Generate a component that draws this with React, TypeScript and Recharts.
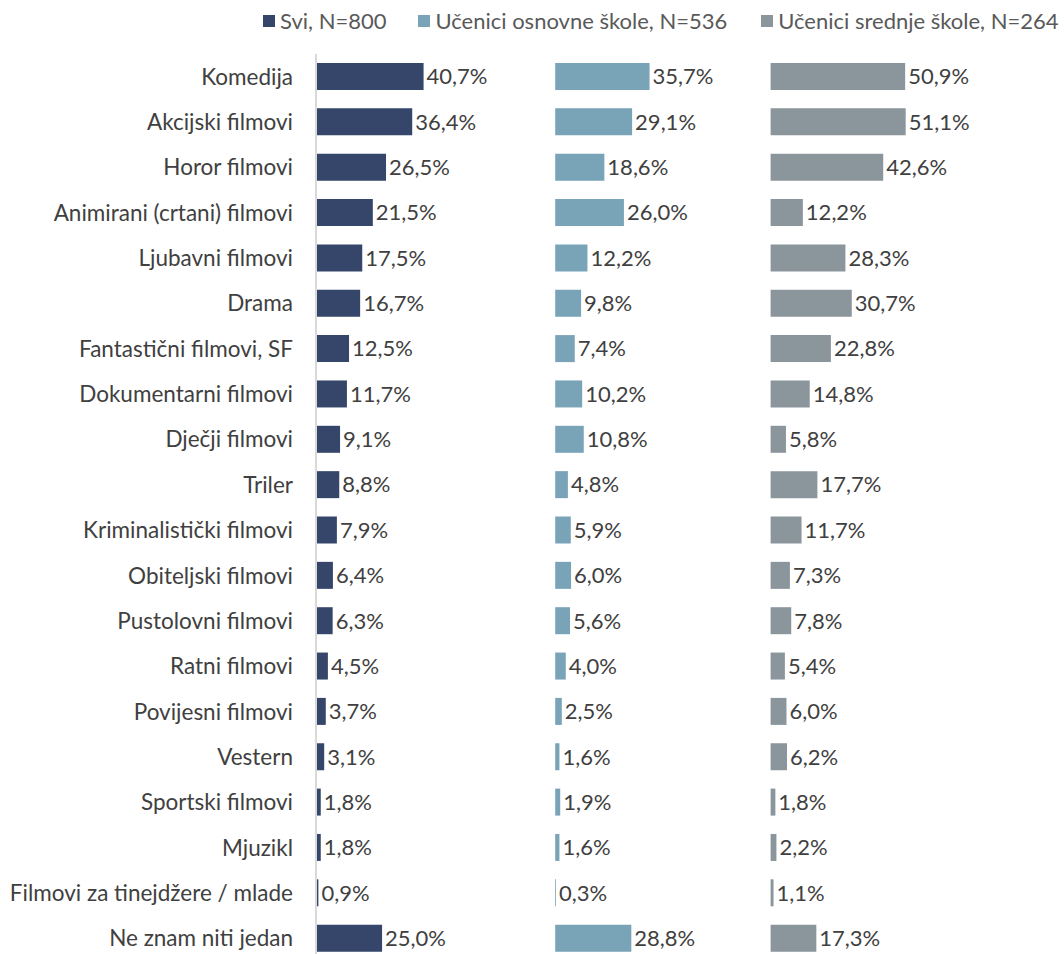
import { BarChart, Bar, XAxis, YAxis, LabelList, Legend } from "recharts";

const categories = [
  "Komedija",
  "Akcijski filmovi",
  "Horor filmovi",
  "Animirani (crtani) filmovi",
  "Ljubavni filmovi",
  "Drama",
  "Fantastični filmovi, SF",
  "Dokumentarni filmovi",
  "Dječji filmovi",
  "Triler",
  "Kriminalistički filmovi",
  "Obiteljski filmovi",
  "Pustolovni filmovi",
  "Ratni filmovi",
  "Povijesni filmovi",
  "Vestern",
  "Sportski filmovi",
  "Mjuzikl",
  "Filmovi za tinejdžere / mlade",
  "Ne znam niti jedan",
];

const svi = [40.7, 36.4, 26.5, 21.5, 17.5, 16.7, 12.5, 11.7, 9.1, 8.8, 7.9, 6.4, 6.3, 4.5, 3.7, 3.1, 1.8, 1.8, 0.9, 25.0];
const osnovne = [35.7, 29.1, 18.6, 26.0, 12.2, 9.8, 7.4, 10.2, 10.8, 4.8, 5.9, 6.0, 5.6, 4.0, 2.5, 1.6, 1.9, 1.6, 0.3, 28.8];
const srednje = [50.9, 51.1, 42.6, 12.2, 28.3, 30.7, 22.8, 14.8, 5.8, 17.7, 11.7, 7.3, 7.8, 5.4, 6.0, 6.2, 1.8, 2.2, 1.1, 17.3];

const seriesNames = ["Svi, N=800", "Učenici osnovne škole, N=536", "Učenici srednje škole, N=264"];
const COLORS = ["#35466a", "#79a3b7", "#8a959c"];

// where the 2nd and 3rd panels begin on the shared value axis
const PANEL2_START = 90.5;
const PANEL3_START = 172;

const data = categories.map((name, i) => ({
  name,
  svi: svi[i],
  gap1: PANEL2_START - svi[i],
  osnovne: osnovne[i],
  gap2: PANEL3_START - PANEL2_START - osnovne[i],
  srednje: srednje[i],
}));

const FONT = "Lato, 'Noto Sans', sans-serif";
const fmt = (v: any) => `${Number(v).toFixed(1).replace(".", ",")}%`;

const LegendContent = () => (
  <div
    style={{
      display: "flex",
      flexWrap: "nowrap",
      whiteSpace: "nowrap",
      fontFamily: FONT,
      fontSize: 22,
      color: "#595959",
      lineHeight: "26px",
    }}
  >
    {seriesNames.map((n, i) => (
      <div key={n} style={{ display: "flex", alignItems: "center", flexShrink: 0, marginRight: i === 0 ? 32 : 34 }}>
        <span style={{ display: "inline-block", width: 12, height: 12, background: COLORS[i], marginRight: 5 }} />
        {n}
      </div>
    ))}
  </div>
);

export default function App() {
  const labelStyle = { fill: "#404040", fontSize: 22, fontFamily: FONT };
  return (
    <div style={{ position: "fixed", left: 0, top: 0, width: 1064, height: 954, overflow: "hidden", background: "#fff" }}>
      <BarChart
        width={1064}
        height={962}
        data={data}
        layout="vertical"
        margin={{ top: 54, right: 0, bottom: 1, left: 0 }}
        barSize={27}
      >
        <XAxis type="number" hide domain={[0, 283]} />
        <YAxis
          type="category"
          dataKey="name"
          width={316}
          tickLine={false}
          tickSize={0}
          tickMargin={23}
          axisLine={{ stroke: "#d9d9d9", strokeWidth: 2 }}
          tick={{ fill: "#404040", fontSize: 22.5, fontFamily: FONT }}
          interval={0}
        />
        <Legend
          verticalAlign="middle"
          layout="horizontal"
          content={<LegendContent />}
          wrapperStyle={{ top: 8, left: 263, width: 801 }}
        />
        <Bar dataKey="svi" stackId="a" fill={COLORS[0]} isAnimationActive={false}>
          <LabelList dataKey="svi" position="right" offset={3} formatter={fmt} style={labelStyle} />
        </Bar>
        <Bar dataKey="gap1" stackId="a" fill="transparent" legendType="none" isAnimationActive={false} />
        <Bar dataKey="osnovne" stackId="a" fill={COLORS[1]} isAnimationActive={false}>
          <LabelList dataKey="osnovne" position="right" offset={3} formatter={fmt} style={labelStyle} />
        </Bar>
        <Bar dataKey="gap2" stackId="a" fill="transparent" legendType="none" isAnimationActive={false} />
        <Bar dataKey="srednje" stackId="a" fill={COLORS[2]} isAnimationActive={false}>
          <LabelList dataKey="srednje" position="right" offset={3} formatter={fmt} style={labelStyle} />
        </Bar>
      </BarChart>
    </div>
  );
}
